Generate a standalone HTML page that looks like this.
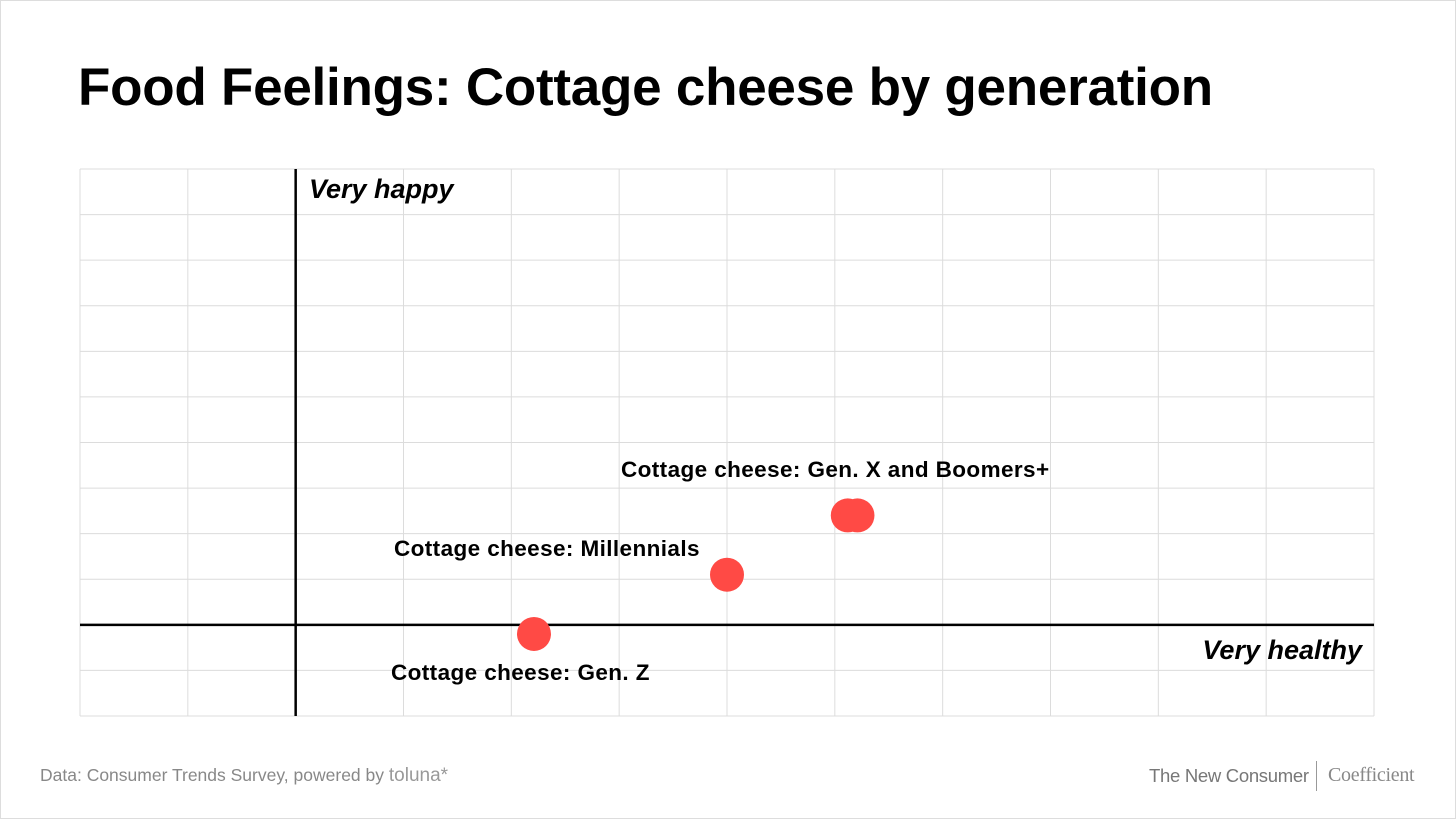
<!DOCTYPE html>
<html><head><meta charset="utf-8"><style>
html,body{margin:0;padding:0;background:#fff}
body{width:1456px;height:819px;position:relative;overflow:hidden;font-family:"Liberation Sans",sans-serif}
#frame{position:absolute;left:0;top:0;width:1454px;height:817px;border:1px solid #ddd}
h1{position:absolute;left:78px;top:57px;margin:0;font-size:53px;font-weight:bold;color:#000;letter-spacing:-0.25px}
.foot{position:absolute;top:765px;font-size:18px;color:#888}
</style></head><body>
<div id="frame"></div>
<h1>Food Feelings: Cottage cheese by generation</h1>
<svg id="chart" width="1456" height="819" style="position:absolute;left:0;top:0"></svg>
<div class="foot" style="left:40px;font-size:17.5px">Data: Consumer Trends Survey, powered by <span style="color:#999;font-size:19px">toluna*</span></div>
<div class="foot" style="left:1149px;color:#777;font-size:18.5px;letter-spacing:-0.3px">The New Consumer</div>
<div style="position:absolute;left:1316px;top:761px;width:1px;height:30px;background:#999"></div>
<div class="foot" style="left:1328px;font-family:'Liberation Serif',serif;font-size:20px;color:#888;top:764px;letter-spacing:-0.3px">Coefficient</div>
<script>
const names=["Cottage cheese: Gen. Z","Cottage cheese: Millennials","Cottage cheese: Gen. X","Cottage cheese: Boomers+"];
const healthy=[2.21,4.0,5.12,5.21];
const happy=[-0.2,1.1,2.4,2.4];
const labels=[{t:"Cottage cheese: Gen. Z",x:391,y:680},{t:"Cottage cheese: Millennials",x:394,y:556},{t:"Cottage cheese: Gen. X and Boomers+",x:621,y:477}];
const ns="http://www.w3.org/2000/svg";
const svg=document.getElementById('chart');
const L=80,R=1374,T=169,B=716,cols=12,rows=12;
const cw=(R-L)/cols, rh=(B-T)/rows;
const ox=L+2*cw, oy=T+10*rh;
const sx=v=>ox+v*cw, sy=v=>oy-v*rh;
function mk(t,a){const e=document.createElementNS(ns,t);for(const k in a)e.setAttribute(k,a[k]);svg.appendChild(e);return e;}
for(let i=0;i<=cols;i++){const l=mk('line',{x1:L+i*cw,x2:L+i*cw,y1:T,y2:B,stroke:'#dcdcdc','stroke-width':1});

}
for(let j=0;j<=rows;j++){const l=mk('line',{x1:L,x2:R,y1:T+j*rh,y2:T+j*rh,stroke:'#dcdcdc','stroke-width':1});

}
let ax=mk('line',{x1:L,x2:R,y1:oy,y2:oy,stroke:'#000','stroke-width':2.5});


let ay=mk('line',{x1:ox,x2:ox,y1:T,y2:B,stroke:'#000','stroke-width':2.5});


let t1=mk('text',{x:309,y:198,'font-size':27,'font-weight':'bold','font-style':'italic','font-family':'Liberation Sans, sans-serif'});
t1.textContent='Very happy';


let t2=mk('text',{x:1362,y:659,'font-size':27,'font-weight':'bold','font-style':'italic','text-anchor':'end','font-family':'Liberation Sans, sans-serif'});
t2.textContent='Very healthy';


healthy.forEach((v,i)=>{const c=mk('circle',{cx:sx(v),cy:sy(happy[i]),r:17,fill:'#ff4a45'});


const tt=document.createElementNS(ns,'title');tt.textContent=names[i];c.appendChild(tt);});
labels.forEach(l=>{const t=mk('text',{x:l.x,y:l.y,'font-size':22.5,'font-weight':'bold','letter-spacing':0.4,'font-family':'Liberation Sans, sans-serif'});t.textContent=l.t;

});
</script>
</body></html>
